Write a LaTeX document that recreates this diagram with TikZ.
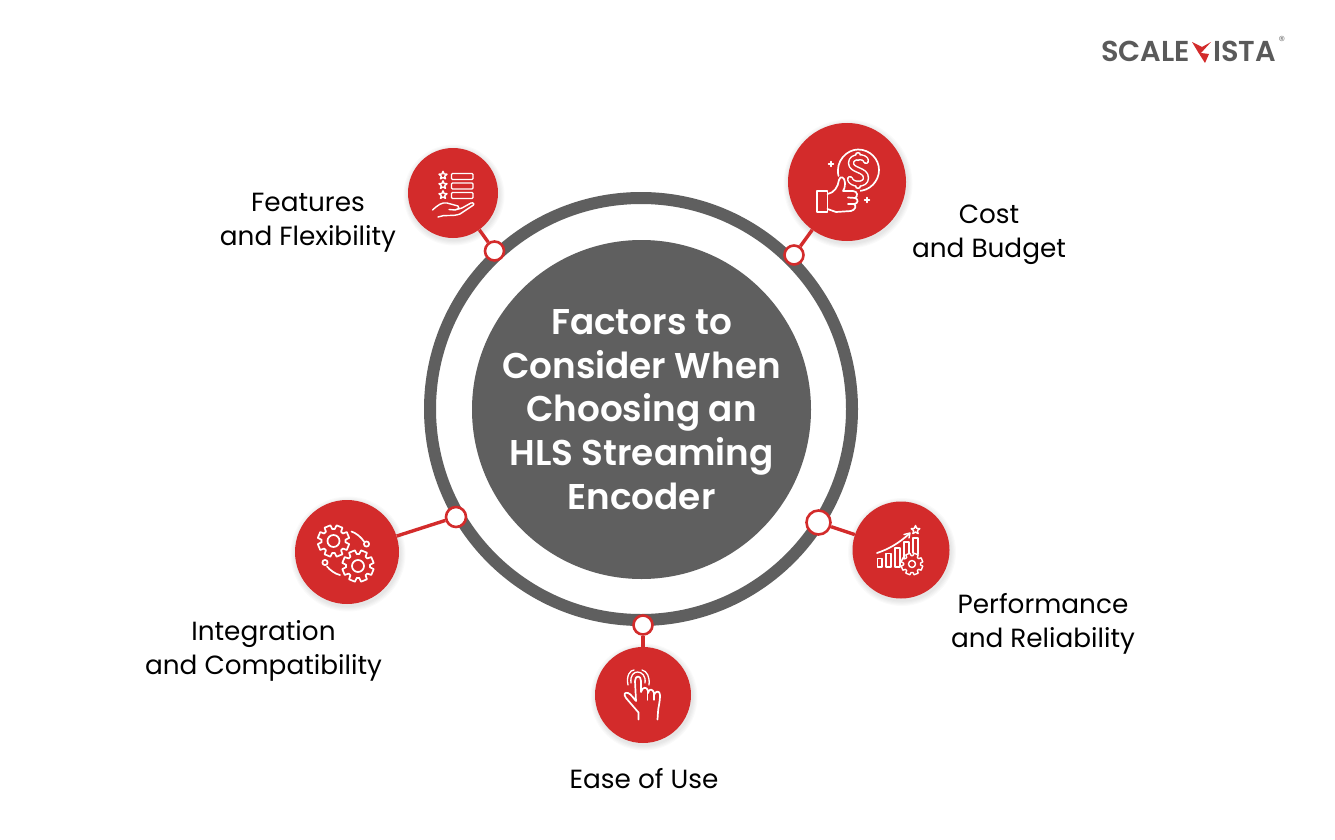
\documentclass[tikz,border=0pt]{standalone}
\usepackage{fontspec}
\setmainfont{Poppins}
\newfontfamily\popsemi{Poppins SemiBold}
\usetikzlibrary{calc}
\definecolor{cred}{HTML}{D32B2B}
\definecolor{cgrey}{HTML}{5F5F5F}
\definecolor{clogo}{HTML}{5A5A5A}
\tikzset{
  redball/.style={circle,fill=cred,draw=none,inner sep=0pt,minimum size=#1},
  joint/.style={circle,fill=white,draw=cred,line width=2.6pt,inner sep=0pt,minimum size=#1},
  link/.style={draw=cred,line width=3.4pt},
  label/.style={align=center,text=black,font=\fontsize{26.3}{34}\selectfont,inner sep=0pt},
  ico/.style={draw=white,line width=1.7pt,line cap=round,line join=round},
}
% soft shadow under a ball
\newcommand{\softshadow}[3]{%
  \foreach \k in {5,4,3,2,1}{%
    \fill[black,opacity=0.02] (#1+1,#2+2) circle ({#3+\k*1.1});}%
}
% gear outline: centre x, y, outer r, root r, hole r
\newcommand{\geardraw}[6][ico]{%
  \begin{scope}[shift={(#2,#3)}]
  \draw[#1] (0:#5)
    \foreach \t in {0,45,...,315}{
      -- (\t+6:#5) -- (\t+11:#4) -- (\t+34:#4) -- (\t+39:#5)
    } -- (0:#5) -- cycle;
  \draw[#1] (0,0) circle (#6);
  \end{scope}%
}
\newcommand{\staricon}[3]{%
  \begin{scope}[shift={(#1,#2)}]
  \draw[ico,line width=1.4pt] (-90:#3) -- (-54:#3*0.45) -- (-18:#3) -- (18:#3*0.45) -- (54:#3) -- (90:#3*0.45) -- (126:#3) -- (162:#3*0.45) -- (198:#3) -- (234:#3*0.45) -- cycle;
  \end{scope}%
}
\begin{document}
\begin{tikzpicture}[x=1pt,y=-1pt]
\useasboundingbox (0,0) rectangle (1335,840);
\fill[white] (0,0) rectangle (1335,840);

% ring and centre
\draw[cgrey,line width=12pt] (641,409) circle (211);
\fill[cgrey] (641.5,409.5) circle (169.5);
\node[inner sep=0pt,align=center,text=white,
  font=\fontsize{35.8}{43.6}\selectfont\popsemi] (hub) at (641.5,409.5)
  {Factors to\\Consider When\\Choosing an\\HLS Streaming\\Encoder};

% shadows
\softshadow{453}{193}{45}
\softshadow{847}{182}{59}
\softshadow{901}{550}{48.5}
\softshadow{643}{695}{48}
\softshadow{347}{552}{52}

% balls and joints
\node[redball=90pt]  (features) at (453,193) {};
\node[redball=118pt] (cost)     at (847,182) {};
\node[redball=97pt]  (perf)     at (901,550) {};
\node[redball=96pt]  (ease)     at (643,695) {};
\node[redball=104pt] (integ)    at (347,552) {};
\node[joint=19pt] (jf) at (494.5,251) {};
\node[joint=19pt] (jc) at (794,255) {};
\node[joint=24pt] (jp) at (818.5,522.5) {};
\node[joint=19pt] (je) at (643,625) {};
\node[joint=20pt] (ji) at (456,517) {};
\draw[link] (features) -- (jf);
\draw[link] (cost) -- (jc);
\draw[link] (perf) -- (jp);
\draw[link] (ease) -- (je);
\draw[link] (integ) -- (ji);

% labels
\node[label] (lf) at (308,223) {Features\\and Flexibility};
\node[label] (lc) at (989,235) {Cost\\and Budget};
\node[label] (lp) at (1043,624) {Performance\\and Reliability};
\node[label] (le) at (644,779) {Ease of Use};
\node[label] (li) at (263.5,651) {Integration\\and Compatibility};

% icon: features
\staricon{443}{175.5}{4.2}
\staricon{443}{185}{4.2}
\staricon{443}{195}{4.2}
\draw[ico,line width=1.4pt,rounded corners=1pt] (451.5,173.5) rectangle (473,179.5);
\draw[ico,line width=1.4pt,rounded corners=1pt] (451.5,183) rectangle (473,189);
\draw[ico,line width=1.4pt,rounded corners=1pt] (451.5,192.5) rectangle (473,198.5);
\draw[ico,line width=1.4pt] (432.5,210) .. controls (438,205) and (442,202) .. (447,203) -- (458,206) .. controls (460,208) and (457,210) .. (455,210) -- (449,209.5)
  (455,210) -- (462,208) -- (471,203) .. controls (474,202) and (475,205) .. (472,206) -- (460,214) .. controls (452,217) and (445,214) .. (438,217);

% icon: cost
\draw[ico] (838.5,176) .. controls (835,161) and (847,149.5) .. (858,149.5) .. controls (870,149.5) and (879,159) .. (879,170) .. controls (879,181) and (870,191) .. (858,191) -- (856,191);
\draw[white,line width=6.4pt,line cap=round,line join=round] (866,161) .. controls (866,156) and (851,155) .. (851,163) .. controls (851,171) and (866,169) .. (866,178) .. controls (866,186) and (851,185) .. (850,179) (858,155) -- (858,158) (858,183.5) -- (858,186);
\draw[cred,line width=3.4pt,line cap=round,line join=round] (866,161) .. controls (866,156) and (851,155) .. (851,163) .. controls (851,171) and (866,169) .. (866,178) .. controls (866,186) and (851,185) .. (850,179) (858,155) -- (858,158) (858,183.5) -- (858,186);
\fill[cred] (817,190) rectangle (860,214);
\fill[cred] (829,180) rectangle (847,192);
\draw[ico] (817,191) rectangle (827.5,212);
\draw[ico] (827.5,194) .. controls (834,193) and (838,187) .. (839,180) .. controls (840,175) and (845,177) .. (845,183) .. controls (845,187) and (844,190) .. (843,191) -- (853,191) .. controls (858,191) and (858,197) .. (855,198)
 .. controls (859,199) and (858,204) .. (854,204) .. controls (857,206) and (855,210) .. (851,211) -- (836,212) -- (827.5,209);
\draw[ico] (848,197.5) -- (855,198) (848,204) -- (854,204);
\draw[ico,line width=1.4pt] (831,161.5) -- (831,166.5) (828.5,164) -- (833.5,164);
\draw[ico,line width=1.4pt] (867,197.5) -- (867,202.5) (864.5,200) -- (869.5,200);

% icon: performance
\draw[ico,line width=1.4pt] (877.5,558.5) rectangle (882,567);
\draw[ico,line width=1.4pt] (886,553.5) rectangle (891,567);
\draw[ico,line width=1.4pt] (895,548) rectangle (900,567);
\draw[ico,line width=1.4pt] (904,559) -- (904,542) -- (909,542) -- (909,553);
\draw[ico,line width=1.4pt] (913,553) -- (913,538) -- (918,538) -- (918,554);
\draw[ico] (877,553) .. controls (889,549) and (899,543) .. (909,534);
\draw[ico,line width=1.4pt] (904,534.5) -- (910,533) -- (909,538);
\staricon{915.5}{530}{4.5}
\geardraw[ico,line width=1.4pt]{912}{564}{11}{8.5}{3.5}

% icon: ease
\draw[ico] (638.5,719.5) -- (638.5,712.5) -- (626,698) .. controls (623,694) and (625,692) .. (628,693) .. controls (631,694) and (634,699) .. (636,701)
  -- (635,681) .. controls (635,675) and (641,675) .. (641,681) -- (641,692)
  .. controls (642,687) and (647,686) .. (648,691) -- (648,693)
  .. controls (649,688) and (653,689) .. (654,693) -- (654,695)
  .. controls (655,691) and (660,690) .. (660,695) .. controls (660,703) and (658,708) .. (658,712) -- (657.5,719.5);
\draw[ico,line width=1.3pt] (647.5,693) -- (647.5,700) (654,695) -- (654,700);
\draw[ico,line width=1.3pt] (631,683) .. controls (630,675) and (634,672) .. (637.5,672) .. controls (642,672) and (646,676) .. (645,683);
\draw[ico,line width=1.3pt] (628,685) .. controls (626,676) and (630,670) .. (634,670)
 (642,670) .. controls (647,671) and (650,677) .. (649,685);

% icon: integration
\geardraw{333.5}{541}{16}{12}{6}
\geardraw{358}{566}{16}{12}{6}
\draw[ico] (351.5,531.5) .. controls (356,533) and (361,537) .. (364,541.5);
\draw[ico] (366.5,544) circle (2.6);
\draw[ico] (327,566.5) .. controls (330,570) and (335,574) .. (340,575);
\draw[ico] (325,562.5) circle (2.6);

% logo
\node[inner sep=0pt,anchor=base west,text=clogo,font=\fontsize{28.8}{29}\selectfont\popsemi] (logoa) at (1101,62) {SCALE};
\node[inner sep=0pt,anchor=base west,text=clogo,font=\fontsize{28.8}{29}\selectfont\popsemi] (logob) at (1213,62) {ISTA};
\fill[cred] (1192,42) -- (1202,47) -- (1211,42) -- (1201,53) -- (1209,54) -- (1205,63) -- (1198,52) -- cycle;
\node[inner sep=0pt,text=gray,font=\fontsize{13}{14}\selectfont] (logor) at (1282,41) {®};
\end{tikzpicture}
\end{document}
